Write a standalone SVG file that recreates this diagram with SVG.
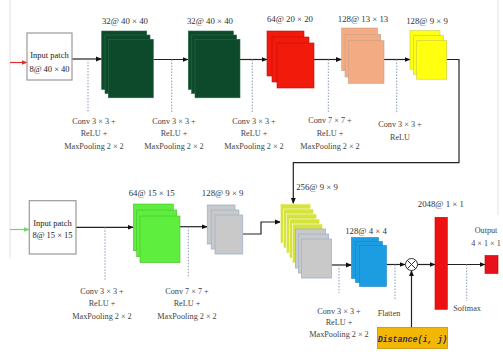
<svg xmlns="http://www.w3.org/2000/svg" width="503" height="354" viewBox="0 0 503 354">
<defs>
<marker id="arr" markerUnits="userSpaceOnUse" markerWidth="6" markerHeight="6" refX="5.5" refY="3" orient="auto"><path d="M0,0.6 L6,3 L0,5.4 z" fill="#111"/></marker>
<marker id="arrR" markerUnits="userSpaceOnUse" markerWidth="6" markerHeight="6" refX="5.5" refY="3" orient="auto"><path d="M0,0.6 L6,3 L0,5.4 z" fill="#e03030"/></marker>
<marker id="arrG" markerUnits="userSpaceOnUse" markerWidth="6" markerHeight="6" refX="5.5" refY="3" orient="auto"><path d="M0,0.6 L6,3 L0,5.4 z" fill="#66dd66"/></marker>
</defs>
<style>
text{font-family:"Liberation Serif","Times New Roman",serif;fill:#333;text-anchor:middle}
.lb{font-size:8.8px}
.cv{font-size:8.2px;fill:#444}
.in{font-size:8.5px;fill:#222}
.box{fill:#fff;stroke:#9a9a9a;stroke-width:1.2}
.ln{fill:none;stroke:#222;stroke-width:1.2}
.dash{fill:none;stroke:#8a9ab8;stroke-width:1;stroke-dasharray:1.5 1.5}
.dg{fill:#0d4a2b;stroke:#2a6a45;stroke-width:0.6}
.rd{fill:#f21a0a;stroke:#c41010;stroke-width:0.6}
.pc{fill:#f2ab82;stroke:#caa089;stroke-width:0.6}
.yl{fill:#ffff10;stroke:#c8c840;stroke-width:0.6}
.gr{fill:#5eee3e;stroke:#4cc030;stroke-width:0.6}
.gy{fill:#c9c9c9;stroke:#9fb4cc;stroke-width:0.8}
.yg{fill:#d5e33c;stroke:#f4f8c0;stroke-width:0.8}
.bl{fill:#1c9de2;stroke:#1a86c4;stroke-width:0.6}
.faint{stroke:#e2e2e2;stroke-width:1}
</style>
<rect width="503" height="354" fill="#fff"/>
<line class="faint" x1="10" y1="0" x2="10" y2="258"/>
<line class="faint" x1="498" y1="0" x2="498" y2="215"/>

<g id="connectors">
<line x1="10" y1="62.5" x2="27" y2="62.5" stroke="#e03030" stroke-width="1.2" marker-end="url(#arrR)"/>
<line x1="10" y1="229.5" x2="29" y2="229.5" stroke="#66dd66" stroke-width="1.2" marker-end="url(#arrG)"/>
<line class="ln" x1="72" y1="59" x2="101.5" y2="59" marker-end="url(#arr)"/>
<line class="ln" x1="153.5" y1="59.5" x2="188" y2="59.5" marker-end="url(#arr)"/>
<line class="ln" x1="240" y1="59.5" x2="267" y2="59.5" marker-end="url(#arr)"/>
<line class="ln" x1="314" y1="59.5" x2="341.5" y2="59.5" marker-end="url(#arr)"/>
<line class="ln" x1="384" y1="59.5" x2="410" y2="59.5" marker-end="url(#arr)"/>
<polyline class="ln" points="446.7,59.5 459,59.5 459,162.7 293.3,162.7 293.3,203.5" marker-end="url(#arr)"/>
<line class="ln" x1="76" y1="227.3" x2="133.3" y2="227.3" marker-end="url(#arr)"/>
<line class="ln" x1="180" y1="226.7" x2="207.3" y2="226.7" marker-end="url(#arr)"/>
<polyline class="ln" points="242.7,234 261,234 261,222 280.5,222" marker-end="url(#arr)"/>
<line class="ln" x1="331.5" y1="265" x2="351.5" y2="265" marker-end="url(#arr)"/>
<line class="ln" x1="386.5" y1="264.5" x2="405" y2="264.5" marker-end="url(#arr)"/>
<line class="ln" x1="411.5" y1="327.5" x2="411.5" y2="270.5" marker-end="url(#arr)"/>
<line class="ln" x1="417" y1="264.5" x2="435" y2="264.5" marker-end="url(#arr)"/>
<line class="ln" x1="447.3" y1="264.5" x2="485" y2="264.5" marker-end="url(#arr)"/>
<line class="dash" x1="88" y1="59" x2="88" y2="112"/>
<line class="dash" x1="171.7" y1="59.5" x2="171.7" y2="112"/>
<line class="dash" x1="252.3" y1="59.5" x2="252.3" y2="112"/>
<line class="dash" x1="328.3" y1="59.5" x2="328.3" y2="112"/>
<line class="dash" x1="396.7" y1="59.5" x2="396.7" y2="112"/>
<line class="dash" x1="105" y1="227.3" x2="105" y2="280"/>
<line class="dash" x1="188.3" y1="226.7" x2="188.3" y2="278"/>
<line class="dash" x1="339" y1="265" x2="339" y2="293"/>
<line class="dash" x1="395" y1="264.5" x2="395" y2="300"/>
<line class="dash" x1="466.7" y1="264.5" x2="466.7" y2="301"/>
</g>

<g id="input1">
<rect class="box" x="27" y="33" width="45" height="47"/>
<text class="in" x="49.5" y="58">Input patch</text>
<text class="in" x="49.5" y="72">8@ 40 × 40</text>
</g>
<g id="conv1">
<rect class="dg" x="101.7" y="31" width="45" height="58.5"/>
<rect class="dg" x="105" y="35" width="45" height="58.5"/>
<rect class="dg" x="108.3" y="39.3" width="45" height="58.5"/>
<text class="lb" x="125" y="23.5">32@ 40 × 40</text>
</g>
<g id="conv2">
<rect class="dg" x="188.3" y="31" width="45" height="58.5"/>
<rect class="dg" x="191.6" y="35" width="45" height="58.5"/>
<rect class="dg" x="195" y="39.3" width="45" height="58.5"/>
<text class="lb" x="210" y="23.5">32@ 40 × 40</text>
</g>
<g id="conv3">
<rect class="rd" x="267" y="31" width="37" height="45"/>
<rect class="rd" x="272" y="37" width="37" height="45"/>
<rect class="rd" x="277" y="43" width="37" height="45"/>
<text class="lb" x="290" y="22">64@ 20 × 20</text>
</g>
<g id="conv4">
<rect class="pc" x="341.7" y="28" width="35.7" height="42.7"/>
<rect class="pc" x="345" y="34.3" width="35.7" height="42.7"/>
<rect class="pc" x="348.3" y="40.7" width="35.7" height="42.7"/>
<text class="lb" x="363" y="22">128@ 13 × 13</text>
</g>
<g id="conv5">
<rect class="yl" x="410" y="30.7" width="30" height="38.5"/>
<rect class="yl" x="413.3" y="35.7" width="30" height="38.5"/>
<rect class="yl" x="416.7" y="40.7" width="30" height="38.5"/>
<text class="lb" x="427" y="23.5">128@ 9 × 9</text>
</g>
<g id="ops-top">
<text class="cv" x="94" y="123.5">Conv 3 × 3 +</text>
<text class="cv" x="94" y="136">ReLU +</text>
<text class="cv" x="94" y="148.5">MaxPooling 2 × 2</text>
<text class="cv" x="174" y="123.5">Conv 3 × 3 +</text>
<text class="cv" x="174" y="136">ReLU +</text>
<text class="cv" x="174" y="148.5">MaxPooling 2 × 2</text>
<text class="cv" x="254" y="123.5">Conv 3 × 3 +</text>
<text class="cv" x="254" y="136">ReLU +</text>
<text class="cv" x="254" y="148.5">MaxPooling 2 × 2</text>
<text class="cv" x="330" y="123">Conv 7 × 7 +</text>
<text class="cv" x="330" y="136">ReLU +</text>
<text class="cv" x="330" y="148.5">MaxPooling 2 × 2</text>
<text class="cv" x="400" y="127">Conv 3 × 3 +</text>
<text class="cv" x="400" y="139.5">ReLU</text>
</g>

<g id="input2">
<rect class="box" x="29.3" y="200.7" width="46.7" height="53.3"/>
<text class="in" x="52.5" y="226">Input patch</text>
<text class="in" x="52.5" y="238">8@ 15 × 15</text>
</g>
<g id="conv6">
<rect class="gr" x="133.3" y="204" width="40" height="46.7"/>
<rect class="gr" x="136.7" y="210" width="40" height="46.7"/>
<rect class="gr" x="140" y="216" width="40" height="46.7"/>
<text class="lb" x="151.7" y="196">64@ 15 × 15</text>
</g>
<g id="conv7">
<rect class="gy" x="207.3" y="205" width="27.7" height="39"/>
<rect class="gy" x="211.2" y="210" width="27.7" height="39"/>
<rect class="gy" x="215" y="215" width="27.7" height="39"/>
<text class="lb" x="222.7" y="196">128@ 9 × 9</text>
</g>
<g id="concat">
<rect class="yg" x="280.5" y="204" width="30" height="39"/>
<rect class="yg" x="283.5" y="209" width="30" height="39"/>
<rect class="yg" x="286.5" y="214" width="30" height="39"/>
<rect class="yg" x="289.5" y="219" width="30" height="39"/>
<rect class="yg" x="292.5" y="224" width="30" height="39"/>
<rect class="gy" x="295.5" y="229" width="30" height="39"/>
<rect class="gy" x="298.5" y="234" width="30" height="39"/>
<rect class="gy" x="301.5" y="239" width="30" height="39"/>
<text class="lb" x="317" y="190">256@ 9 × 9</text>
</g>
<g id="conv8">
<rect class="bl" x="351.5" y="237.5" width="27" height="41"/>
<rect class="bl" x="355.5" y="241.5" width="27" height="41"/>
<rect class="bl" x="359.5" y="245.5" width="27" height="41"/>
<text class="lb" x="366" y="233.5">128@ 4 × 4</text>
</g>
<g id="multiply">
<circle cx="411.5" cy="264.5" r="6" fill="#fff" stroke="#333" stroke-width="1"/>
<path d="M407.3,260.3 L415.7,268.7 M415.7,260.3 L407.3,268.7" stroke="#333" stroke-width="1"/>
</g>
<g id="distance">
<rect x="377.5" y="327.5" width="70" height="21" fill="#f2b705" stroke="#c89200" stroke-width="0.8"/>
<text x="412.5" y="341.5" style="font-family:'Liberation Mono','DejaVu Sans Mono',monospace;font-style:italic;font-weight:bold;font-size:8.3px;fill:#1f2f5f">Distance(i, j)</text>
</g>
<g id="fc">
<rect x="435" y="217.3" width="12.3" height="92" fill="#ee1111" stroke="#c00" stroke-width="0.6"/>
<text class="lb" x="440.8" y="207">2048@ 1 × 1</text>
</g>
<g id="output">
<rect x="485" y="255.5" width="13" height="18" fill="#e8101a" stroke="#b00" stroke-width="0.6"/>
<text class="cv" x="486" y="233">Output</text>
<text class="cv" x="486" y="245.5">4 × 1 × 1</text>
</g>
<g id="ops-bottom">
<text class="cv" x="102" y="294">Conv 3 × 3 +</text>
<text class="cv" x="102" y="306.3">ReLU +</text>
<text class="cv" x="102" y="318.5">MaxPooling 2 × 2</text>
<text class="cv" x="187" y="294">Conv 7 × 7 +</text>
<text class="cv" x="187" y="306.3">ReLU +</text>
<text class="cv" x="187" y="318.5">MaxPooling 2 × 2</text>
<text class="cv" x="339" y="313.5">Conv 3 × 3 +</text>
<text class="cv" x="339" y="325">ReLU +</text>
<text class="cv" x="339" y="336.5">MaxPooling 2 × 2</text>
<text class="cv" x="389" y="316">Flatten</text>
<text class="cv" x="467" y="311">Softmax</text>
</g>
</svg>
